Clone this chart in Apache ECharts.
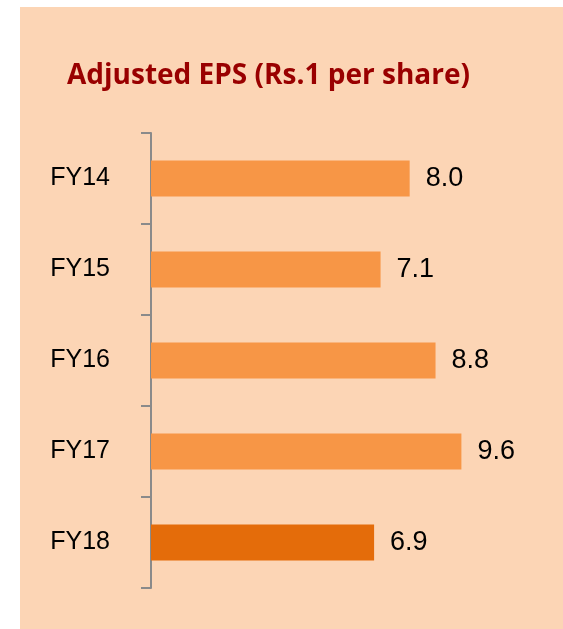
<!DOCTYPE html>
<html>
<head>
<meta charset="utf-8">
<script src="https://cdn.jsdelivr.net/npm/echarts@6/dist/echarts.min.js"></script>
<style>
  html, body { margin: 0; padding: 0; background: #ffffff; }
  .panel { position: absolute; left: 20px; top: 7px; right: 0; bottom: 0; background: #fcd5b5; }
  #chart { position: absolute; left: 0; top: 0; width: 563px; height: 629px; }
</style>
</head>
<body>
<div class="panel"></div>
<div id="chart"></div>
<script>
  // data
  const years = ['FY14', 'FY15', 'FY16', 'FY17', 'FY18'];
  const eps = [8.0, 7.1, 8.8, 9.6, 6.9];
  const barColors = ['#f79646', '#f79646', '#f79646', '#f79646', '#e46c0a'];

  const chart = echarts.init(document.getElementById('chart'));

  const option = {
    animation: false,
    title: {
      text: 'Adjusted EPS (Rs.1 per share)',
      left: 62,
      top: 57,
      textStyle: {
        fontFamily: 'Open Sans',
        fontWeight: 'bold',
        fontSize: 28,
        color: '#990000'
      }
    },
    grid: {
      left: 151,
      right: 24,
      top: 133,
      bottom: 41,
      containLabel: false
    },
    xAxis: {
      type: 'value',
      min: 0,
      max: 12,
      show: false
    },
    yAxis: {
      type: 'category',
      data: years,
      inverse: true,
      axisLine: { show: true, lineStyle: { color: '#8a8a8a', width: 2 } },
      axisTick: { show: true, length: 10, lineStyle: { color: '#8a8a8a', width: 2 } },
      axisLabel: {
        margin: 41,
        fontFamily: 'Liberation Sans',
        fontSize: 25,
        color: '#000000'
      }
    },
    series: [{
      type: 'bar',
      barWidth: 36,
      data: eps.map((v, i) => ({ value: v, itemStyle: { color: barColors[i] } })),
      label: {
        show: true,
        position: 'right',
        distance: 16,
        formatter: p => p.value.toFixed(1),
        fontFamily: 'Liberation Sans',
        fontSize: 27,
        color: '#000000'
      }
    }]
  };

  chart.setOption(option);
</script>
</body>
</html>
